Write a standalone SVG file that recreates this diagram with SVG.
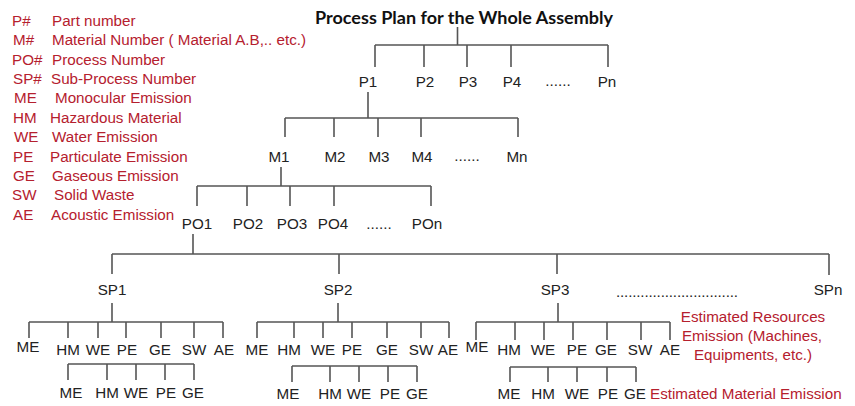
<svg xmlns="http://www.w3.org/2000/svg" width="855" height="406" viewBox="0 0 855 406">
  <style>
    text { font-family: "Liberation Sans", Arial, sans-serif; font-size: 15.2px; }
    .lbl { fill: #222; text-anchor: middle; }
    .leg { fill: #b5202e; }
    .note { fill: #b5202e; text-anchor: middle; }
    .title { font-family: Lato, "Open Sans", sans-serif; font-weight: bold; font-size: 16.5px; fill: #111; text-anchor: middle; }
    .wire { fill: none; stroke: #555; stroke-width: 1.6; }
  </style>
  <rect width="855" height="406" fill="#fff"/>

  <!-- legend -->
  <g id="legend">
    <text class="leg" x="12" y="25.7">P#</text><text class="leg" x="52" y="25.7">Part number</text>
    <text class="leg" x="13" y="45.1">M#</text><text class="leg" x="52" y="45.1">Material Number ( Material A.B,.. etc.)</text>
    <text class="leg" x="12" y="64.5">PO#</text><text class="leg" x="52" y="64.5">Process Number</text>
    <text class="leg" x="13" y="83.9">SP#</text><text class="leg" x="51" y="83.9">Sub-Process Number</text>
    <text class="leg" x="14" y="103.3">ME</text><text class="leg" x="55" y="103.3">Monocular Emission</text>
    <text class="leg" x="13" y="122.7">HM</text><text class="leg" x="50" y="122.7">Hazardous Material</text>
    <text class="leg" x="14" y="142.1">WE</text><text class="leg" x="52" y="142.1">Water Emission</text>
    <text class="leg" x="13" y="161.5">PE</text><text class="leg" x="50" y="161.5">Particulate Emission</text>
    <text class="leg" x="13" y="180.9">GE</text><text class="leg" x="52" y="180.9">Gaseous Emission</text>
    <text class="leg" x="12" y="200.3">SW</text><text class="leg" x="54" y="200.3">Solid Waste</text>
    <text class="leg" x="13" y="219.7">AE</text><text class="leg" x="51" y="219.7">Acoustic Emission</text>
  </g>

  <!-- tree connectors -->
  <g id="connectors" class="wire">
    <!-- assembly to parts -->
    <path d="M457.5,27 V45 M375,45 H608 M375,45 V67 M424,45 V67 M467,45 V67 M511,45 V67 M608,45 V67"/>
    <!-- part 1 to materials -->
    <path d="M368,92 V118 M285,118 H518 M285,118 V137 M334,118 V137 M378,118 V137 M421,118 V137 M518,118 V137"/>
    <!-- material 1 to processes -->
    <path d="M281,167 V186 M197,186 H431 M197,186 V206 M247,186 V206 M290,186 V206 M334,186 V206 M431,186 V206"/>
    <!-- process 1 to sub-processes -->
    <path d="M193,234 V254 M112,254 H829 M112,254 V274 M339,254 V274 M557,254 V274 M829,254 V275"/>
    <!-- SP1 emissions -->
    <path d="M112,303 V322 M29,322 H223 M29,322 V338 M68,322 V338 M98,322 V338 M126,322 V338 M161,322 V338 M194,322 V338 M223,322 V338"/>
    <path d="M68,364 H194 M68,364 V380 M107,364 V380 M136,364 V380 M165,364 V380 M194,364 V380"/>
    <!-- SP2 emissions -->
    <path d="M338,303 V322 M257,322 H449 M257,322 V338 M294,322 V338 M323,322 V338 M352,322 V338 M387,322 V338 M421,322 V338 M449,322 V338"/>
    <path d="M292,366 H417 M292,366 V382 M330,366 V382 M359,366 V382 M388,366 V382 M417,366 V382"/>
    <!-- SP3 emissions -->
    <path d="M558,303 V322 M476,322 H670 M476,322 V340 M515,322 V340 M544,322 V340 M573,322 V340 M607,322 V340 M641,322 V340 M670,322 V340"/>
    <path d="M510,367 H636 M510,367 V382 M548,367 V382 M577,367 V382 M607,367 V382 M636,367 V382"/>
  </g>

  <g id="root"><text class="title" x="464" y="24" textLength="298" lengthAdjust="spacingAndGlyphs">Process Plan for the Whole Assembly</text></g>

  <!-- parts -->
  <g id="p1"><text class="lbl" x="368" y="87">P1</text></g>
  <g id="p2"><text class="lbl" x="425" y="87">P2</text></g>
  <g id="p3"><text class="lbl" x="468" y="87">P3</text></g>
  <g id="p4"><text class="lbl" x="512" y="87">P4</text></g>
  <g id="p-more"><text class="lbl" x="558" y="86">......</text></g>
  <g id="pn"><text class="lbl" x="607" y="87">Pn</text></g>

  <!-- materials -->
  <g id="m1"><text class="lbl" x="279" y="162">M1</text></g>
  <g id="m2"><text class="lbl" x="335" y="162">M2</text></g>
  <g id="m3"><text class="lbl" x="379" y="162">M3</text></g>
  <g id="m4"><text class="lbl" x="422" y="162">M4</text></g>
  <g id="m-more"><text class="lbl" x="467" y="161">......</text></g>
  <g id="mn"><text class="lbl" x="517" y="162">Mn</text></g>

  <!-- processes -->
  <g id="po1"><text class="lbl" x="197" y="229">PO1</text></g>
  <g id="po2"><text class="lbl" x="248" y="229">PO2</text></g>
  <g id="po3"><text class="lbl" x="292" y="229">PO3</text></g>
  <g id="po4"><text class="lbl" x="333" y="229">PO4</text></g>
  <g id="po-more"><text class="lbl" x="379" y="229">......</text></g>
  <g id="pon"><text class="lbl" x="427" y="229">POn</text></g>

  <!-- sub-processes -->
  <g id="sp1"><text class="lbl" x="112" y="295">SP1</text></g>
  <g id="sp2"><text class="lbl" x="338" y="295">SP2</text></g>
  <g id="sp3"><text class="lbl" x="555" y="295">SP3</text></g>
  <g id="sp-more"><text class="lbl" x="677" y="297" textLength="122" lengthAdjust="spacing">..............................</text></g>
  <g id="spn"><text class="lbl" x="828" y="295">SPn</text></g>

  <!-- SP1 resource emissions -->
  <g id="sp1-res">
    <text class="lbl" x="28" y="352">ME</text>
    <text class="lbl" x="68" y="355">HM</text>
    <text class="lbl" x="98" y="355">WE</text>
    <text class="lbl" x="127" y="355">PE</text>
    <text class="lbl" x="160" y="355">GE</text>
    <text class="lbl" x="194" y="355">SW</text>
    <text class="lbl" x="224" y="355">AE</text>
  </g>
  <g id="sp1-mat">
    <text class="lbl" x="71" y="398">ME</text>
    <text class="lbl" x="107" y="398">HM</text>
    <text class="lbl" x="136" y="398">WE</text>
    <text class="lbl" x="166" y="398">PE</text>
    <text class="lbl" x="193" y="398">GE</text>
  </g>

  <!-- SP2 resource emissions -->
  <g id="sp2-res">
    <text class="lbl" x="257" y="355">ME</text>
    <text class="lbl" x="289" y="355">HM</text>
    <text class="lbl" x="323" y="355">WE</text>
    <text class="lbl" x="352" y="355">PE</text>
    <text class="lbl" x="387" y="355">GE</text>
    <text class="lbl" x="421" y="355">SW</text>
    <text class="lbl" x="448" y="355">AE</text>
  </g>
  <g id="sp2-mat">
    <text class="lbl" x="288" y="399">ME</text>
    <text class="lbl" x="330" y="399">HM</text>
    <text class="lbl" x="359" y="399">WE</text>
    <text class="lbl" x="390" y="399">PE</text>
    <text class="lbl" x="417" y="399">GE</text>
  </g>

  <!-- SP3 resource emissions -->
  <g id="sp3-res">
    <text class="lbl" x="477" y="352">ME</text>
    <text class="lbl" x="509" y="355">HM</text>
    <text class="lbl" x="543" y="355">WE</text>
    <text class="lbl" x="577" y="355">PE</text>
    <text class="lbl" x="606" y="355">GE</text>
    <text class="lbl" x="640" y="355">SW</text>
    <text class="lbl" x="670" y="355">AE</text>
  </g>
  <g id="sp3-mat">
    <text class="lbl" x="509" y="399">ME</text>
    <text class="lbl" x="543" y="399">HM</text>
    <text class="lbl" x="577" y="399">WE</text>
    <text class="lbl" x="608" y="399">PE</text>
    <text class="lbl" x="635" y="399">GE</text>
  </g>

  <!-- annotations -->
  <g id="note-resources">
    <text class="note" x="753" y="322">Estimated Resources</text>
    <text class="note" x="752" y="341">Emission (Machines,</text>
    <text class="note" x="753" y="360">Equipments, etc.)</text>
  </g>
  <g id="note-material"><text class="leg" x="650" y="399">Estimated Material Emission</text></g>
</svg>
